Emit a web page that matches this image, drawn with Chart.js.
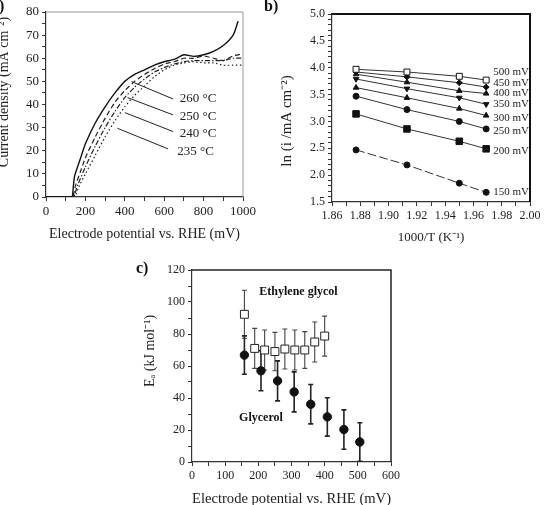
<!DOCTYPE html>
<html>
<head>
<meta charset="utf-8">
<script src="https://cdn.jsdelivr.net/npm/chart.js@4.4.0/dist/chart.umd.min.js"></script>
<style>
html, body { margin: 0; padding: 0; background: #fff; width: 550px; height: 505px; overflow: hidden; position: relative; font-family: "Liberation Serif", serif; }
.panel { position: absolute; }
.tag { position: absolute; font-weight: bold; font-size: 16px; color: #111; }
</style>
</head>
<body>
<div class="panel" style="left:-4px;top:0;width:274px;height:250px"><canvas id="chart-a" width="274" height="250"></canvas></div>
<div class="panel" style="left:250px;top:0;width:300px;height:250px"><canvas id="chart-b" width="300" height="250"></canvas></div>
<div class="panel" style="left:130px;top:255px;width:290px;height:255px"><canvas id="chart-c" width="290" height="255"></canvas></div>
<div class="tag" style="left:-9px;top:-3px">a)</div>
<div class="tag" style="left:264px;top:-3px">b)</div>
<div class="tag" style="left:136px;top:259px">c)</div>
<script>
// ---------- panel a: polarisation curves ----------
const potA260 = [0, 130, 138, 145, 160, 180, 200, 250, 300, 350, 400, 450, 500, 550, 600, 650, 700, 750, 800, 850, 900, 950, 975];
const curA260 = [0, 0, 4, 9, 13, 18, 23, 32, 39, 45, 50, 53, 55, 57, 58.5, 59.5, 61.5, 60.8, 61.5, 63, 65.5, 70, 76];
const potA250 = [100, 135, 150, 175, 200, 250, 300, 350, 400, 450, 500, 550, 600, 650, 700, 750, 800, 850, 900, 950, 1000];
const curA250 = [0, 0, 5, 11, 17, 26, 34, 41, 46, 50, 53, 55.5, 57.5, 58.5, 60, 60, 61, 60, 59, 61, 62];
const potA240 = [110, 140, 160, 200, 250, 300, 350, 400, 450, 500, 550, 600, 650, 700, 750, 800, 850, 900, 950, 1000];
const curA240 = [0, 0, 5, 13, 22, 30, 37, 43, 47.5, 51, 54, 56, 57.5, 58.5, 59, 59, 59, 59, 60, 60];
const potA235 = [120, 145, 170, 200, 250, 300, 350, 400, 450, 500, 550, 600, 650, 700, 750, 800, 850, 900, 950, 1000];
const curA235 = [0, 0, 5, 10, 18, 26, 33, 39, 44, 48, 52, 55, 57, 58, 58.5, 58, 58, 57, 57, 57];
const tempLabels = ['260 °C', '250 °C', '240 °C', '235 °C'];

// ---------- panel b: Arrhenius plots ----------
const invTemp = [1.877, 1.913, 1.950, 1.969];
const potLabels = ['500 mV', '450 mV', '400 mV', '350 mV', '300 mV', '250 mV', '200 mV', '150 mV'];
const ln500 = [3.97, 3.92, 3.84, 3.77];
const ln450 = [3.92, 3.83, 3.72, 3.64];
const ln400 = [3.88, 3.73, 3.57, 3.52];
const ln350 = [3.79, 3.61, 3.44, 3.32];
const ln300 = [3.63, 3.44, 3.24, 3.11];
const ln250 = [3.47, 3.22, 3.00, 2.86];
const ln200 = [3.14, 2.86, 2.63, 2.49];
const ln150 = [2.47, 2.19, 1.85, 1.68];

// ---------- panel c: activation energies ----------
const egPot = [158, 189, 219, 250, 280, 310, 340, 370, 400];
const egEa = [92.3, 71, 70, 69, 70.6, 70, 70, 75, 78.7];
const egErr = [15, 12.5, 12.5, 12, 12.5, 12.5, 11.5, 12.5, 12.5];
const glyPot = [158, 208, 258, 308, 358, 408, 458, 506];
const glyEa = [66.8, 57, 50.7, 43.8, 36.1, 28.2, 20.3, 12.5];
const glyErr = [12, 12.5, 12.5, 12.5, 12.3, 12, 12.3, 12];

const SERIF = '"Liberation Serif", "Times New Roman", serif';
Chart.defaults.font.family = SERIF;
Chart.defaults.color = '#222';
Chart.defaults.devicePixelRatio = 1;

const pts = (xs, ys) => xs.map((x, i) => ({ x, y: ys[i] }));
const every = (n, dec) => v => Number.isInteger(Math.round(v / n * 1000) / 1000) ? Number(v).toFixed(dec) : '';

// top and right edges of the box, plus a free-placed rotated y title
const framePlugin = {
    id: 'frame',
    beforeDatasetsDraw(chart, args, opts) {
        const { ctx, chartArea: a } = chart;
        ctx.save();
        ctx.strokeStyle = opts.color || '#888';
        ctx.lineWidth = opts.width || 1;
        ctx.beginPath();
        ctx.moveTo(a.left, a.top);
        ctx.lineTo(a.right, a.top);
        ctx.lineTo(a.right, a.bottom);
        ctx.stroke();
        ctx.restore();
    },
    afterDraw(chart, args, opts) {
        if (!opts.ytitle) return;
        const { ctx } = chart;
        ctx.save();
        ctx.translate(opts.ytitle.x, opts.ytitle.y);
        ctx.rotate(-Math.PI / 2);
        ctx.fillStyle = '#222';
        ctx.font = opts.ytitle.size + 'px ' + SERIF;
        ctx.textAlign = 'center';
        ctx.textBaseline = 'middle';
        ctx.fillText(opts.ytitle.text, 0, 0);
        ctx.restore();
    }
};
Chart.register(framePlugin);

function axis(min, max, step, labelEvery, dec, size, extra) {
    return Object.assign({
        type: 'linear', min, max,
        border: { color: '#333', width: 1.2 },
        grid: { display: true, drawOnChartArea: false, drawTicks: true, tickLength: 4, color: '#333' },
        ticks: { stepSize: step, autoSkip: false, maxTicksLimit: 200, maxRotation: 0, minRotation: 0,
                 padding: 3, font: { size }, color: '#222', callback: every(labelEvery, dec) }
    }, extra);
}

// ---------- chart a ----------
const leaderA = [
    { from: [434, 49.9], to: [645, 42.4], text: [679, 42.4] },
    { from: [414, 43.0], to: [645, 35.5], text: [679, 34.8] },
    { from: [400, 36.5], to: [645, 28.3], text: [679, 27.6] },
    { from: [363, 29.7], to: [620, 20.8], text: [666, 19.7] }
];
new Chart(document.getElementById('chart-a'), {
    type: 'line',
    data: {
        datasets: [
            { data: pts(potA260, curA260), borderColor: '#111', borderWidth: 1.4 },
            { data: pts(potA250, curA250), borderColor: '#222', borderWidth: 1.2, borderDash: [5, 3] },
            { data: pts(potA240, curA240), borderColor: '#222', borderWidth: 1.2, borderDash: [5, 2, 1.5, 2] },
            { data: pts(potA235, curA235), borderColor: '#222', borderWidth: 1.2, borderDash: [1.5, 2.5] }
        ]
    },
    options: {
        responsive: false, animation: false, parsing: false,
        elements: { point: { radius: 0 }, line: { tension: 0.2 } },
        layout: { padding: { top: 12, right: 27, left: 0, bottom: 0 } },
        plugins: {
            legend: { display: false }, tooltip: { enabled: false },
            frame: { color: '#999', width: 1, ytitle: { text: 'Current density (mA cm⁻²)', x: 8, y: 92, size: 14 } }
        },
        scales: {
            x: axis(0, 1000, 100, 200, 0, 13, {
                afterFit: s => { s.height = 53; },
                title: { display: true, text: 'Electrode potential vs. RHE (mV)', font: { size: 14 }, padding: { bottom: 7 } }
            }),
            y: axis(0, 80, 5, 10, 0, 13, { afterFit: s => { s.width = 50; } })
        }
    },
    plugins: [{
        id: 'leadersA',
        afterDatasetsDraw(chart) {
            const { ctx, scales: { x, y } } = chart;
            ctx.save();
            ctx.strokeStyle = '#222';
            ctx.lineWidth = 1;
            ctx.fillStyle = '#222';
            ctx.font = '13px ' + SERIF;
            ctx.textBaseline = 'middle';
            leaderA.forEach((l, i) => {
                ctx.beginPath();
                ctx.moveTo(x.getPixelForValue(l.from[0]), y.getPixelForValue(l.from[1]));
                ctx.lineTo(x.getPixelForValue(l.to[0]), y.getPixelForValue(l.to[1]));
                ctx.stroke();
                ctx.fillText(tempLabels[i], x.getPixelForValue(l.text[0]), y.getPixelForValue(l.text[1]));
            });
            ctx.restore();
        }
    }]
});

// ---------- chart b ----------
const seriesB = [ln500, ln450, ln400, ln350, ln300, ln250, ln200, ln150];
const labelYB = [3.91, 3.71, 3.52, 3.32, 3.07, 2.82, 2.45, 1.69];
const markB = [
    { style: 'rect', r: 4.2, fill: '#fff' },
    { style: 'rectRot', r: 3, fill: '#111' },
    { style: 'triangle', r: 3.2, fill: '#111' },
    { style: 'triangle', r: 3.2, fill: '#111', rot: 180 },
    { style: 'triangle', r: 3.2, fill: '#111' },
    { style: 'circle', r: 3, fill: '#111' },
    { style: 'rect', r: 4.6, fill: '#111' },
    { style: 'circle', r: 3, fill: '#111' }
];
new Chart(document.getElementById('chart-b'), {
    type: 'line',
    data: {
        datasets: seriesB.map((s, i) => ({
            data: pts(invTemp, s),
            borderColor: '#333', borderWidth: 1,
            borderDash: i === 7 ? [9, 3] : [],
            pointStyle: markB[i].style, pointRadius: markB[i].r, pointRotation: markB[i].rot || 0,
            pointBackgroundColor: markB[i].fill, pointBorderColor: '#111', pointBorderWidth: 1
        }))
    },
    options: {
        responsive: false, animation: false, parsing: false,
        layout: { padding: { top: 14, right: 20, left: 0, bottom: 0 } },
        plugins: {
            legend: { display: false }, tooltip: { enabled: false },
            frame: { color: '#111', width: 2, ytitle: { text: 'ln (i /mA cm⁻²)', x: 37, y: 121, size: 15 } }
        },
        scales: {
            x: axis(1.86, 2.00, 0.01, 0.02, 2, 12, {
                afterFit: s => { s.height = 48; },
                title: { display: true, text: '1000/T (K⁻¹)', font: { size: 13 }, padding: { bottom: 5 } }
            }),
            y: axis(1.5, 5.0, 0.1, 0.5, 1, 12, { afterFit: s => { s.width = 82; } })
        }
    },
    plugins: [{
        id: 'labelsB',
        afterDatasetsDraw(chart) {
            const { ctx, scales: { x, y } } = chart;
            ctx.save();
            ctx.fillStyle = '#222';
            ctx.font = '11px ' + SERIF;
            ctx.textBaseline = 'middle';
            potLabels.forEach((t, i) => ctx.fillText(t, x.getPixelForValue(1.974), y.getPixelForValue(labelYB[i])));
            ctx.restore();
        }
    }]
});

// ---------- chart c ----------
new Chart(document.getElementById('chart-c'), {
    type: 'scatter',
    data: {
        datasets: [
            { data: pts(egPot, egEa), errors: egErr, errColor: '#444', errWidth: 1.1,
              pointStyle: 'rect', pointRadius: 5.6, pointBackgroundColor: '#fff', pointBorderColor: '#222', pointBorderWidth: 1 },
            { data: pts(glyPot, glyEa), errors: glyErr, errColor: '#222', errWidth: 1.6,
              pointStyle: 'circle', pointRadius: 4.2, pointBackgroundColor: '#111', pointBorderColor: '#111' }
        ]
    },
    options: {
        responsive: false, animation: false, parsing: false,
        layout: { padding: { top: 15, right: 29, left: 0, bottom: 0 } },
        plugins: {
            legend: { display: false }, tooltip: { enabled: false },
            frame: { color: '#222', width: 1.5, ytitle: { text: 'Eₐ (kJ mol⁻¹)', x: 20, y: 96, size: 14 } }
        },
        scales: {
            x: axis(0, 600, 50, 100, 0, 12, {
                afterFit: s => { s.height = 48; },
                title: { display: true, text: 'Electrode potential vs. RHE (mV)', font: { size: 15 }, padding: { bottom: 2 } }
            }),
            y: axis(0, 120, 10, 20, 0, 12, { afterFit: s => { s.width = 62; } })
        }
    },
    plugins: [{
        id: 'errorBars',
        beforeDatasetsDraw(chart) {
            const { ctx, scales: { y } } = chart;
            ctx.save();
            chart.data.datasets.forEach((ds, i) => {
                const meta = chart.getDatasetMeta(i);
                ctx.strokeStyle = ds.errColor;
                ctx.lineWidth = ds.errWidth;
                meta.data.forEach((p, j) => {
                    const v = ds.data[j].y, e = ds.errors[j];
                    const top = y.getPixelForValue(v + e), bot = y.getPixelForValue(v - e);
                    ctx.beginPath();
                    ctx.moveTo(p.x, top); ctx.lineTo(p.x, bot);
                    ctx.moveTo(p.x - 2.5, top); ctx.lineTo(p.x + 2.5, top);
                    ctx.moveTo(p.x - 2.5, bot); ctx.lineTo(p.x + 2.5, bot);
                    ctx.stroke();
                });
            });
            ctx.restore();
        },
        afterDatasetsDraw(chart) {
            const { ctx, scales: { x, y } } = chart;
            ctx.save();
            ctx.fillStyle = '#111';
            ctx.font = 'bold 12px ' + SERIF;
            ctx.textAlign = 'center';
            ctx.textBaseline = 'middle';
            ctx.fillText('Ethylene glycol', x.getPixelForValue(321), y.getPixelForValue(106));
            ctx.fillText('Glycerol', x.getPixelForValue(208), y.getPixelForValue(27.6));
            ctx.restore();
        }
    }]
});
</script>
</body>
</html>
